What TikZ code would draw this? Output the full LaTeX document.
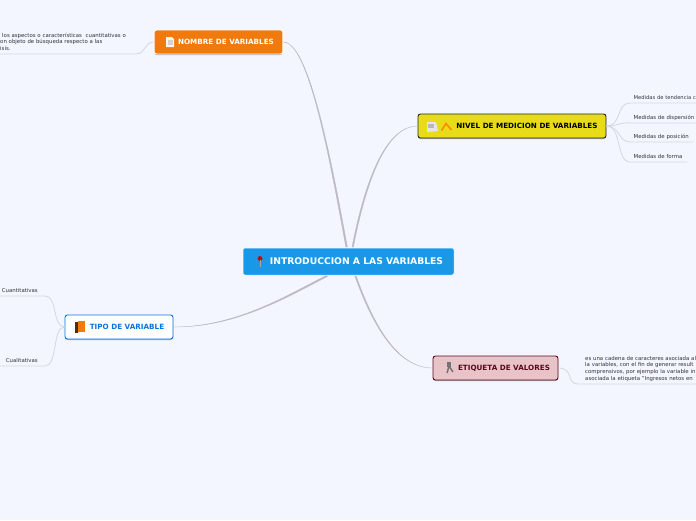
\documentclass[tikz,border=0pt]{standalone}
\usepackage{xcolor}
\usepackage{fontspec}
\setmainfont{DejaVu Sans}
\usepackage{tikz}
\usetikzlibrary{positioning, shadows}
\definecolor{mybg}{RGB}{243,246,255}
\definecolor{myline}{RGB}{186,187,194}
\definecolor{myleaf}{RGB}{212,214,224}
\definecolor{myblue}{RGB}{26,152,232}
\definecolor{myorange}{RGB}{240,122,12}
\definecolor{myyellow}{RGB}{232,220,24}
\definecolor{mypink}{RGB}{232,196,200}
\definecolor{mymaroon}{RGB}{90,8,32}
\definecolor{mytipo}{RGB}{8,116,224}
\definecolor{mytext}{RGB}{50,50,60}
\tikzset{
  branch/.style={rectangle, rounded corners=2.5pt, inner sep=0pt, minimum height=24pt,
    font=\fontsize{7.2}{8}\selectfont\bfseries, line width=0.9pt,
    drop shadow={shadow xshift=0pt, shadow yshift=-1pt, opacity=0.3, fill=black}},
  rootnode/.style={rectangle, rounded corners=2pt, draw=white, fill=myblue, text=white,
    inner sep=0pt, minimum width=211pt, minimum height=27pt, line width=0.5pt,
    font=\fontsize{9.2}{10}\selectfont\bfseries},
  leaf/.style={rectangle, inner sep=0pt, align=left, text=mytext,
    font=\fontsize{5.4}{6.7}\selectfont, minimum height=10pt},
  link/.style={fill=myline, draw=myline, line width=0.3pt},
  leaflink/.style={color=myleaf, line width=0.8pt}
}

\begin{document}
\begin{tikzpicture}[x=1pt, y=-1pt]
  \useasboundingbox[fill=mybg] (0,0) rectangle (696,520);

  % Ends of the links at the centre
  \coordinate (topa) at (345.8,247);
  \coordinate (topb) at (347.4,247);
  \coordinate (topc) at (352,247);
  \coordinate (topd) at (353.4,247);
  \coordinate (bota) at (326,275.6);
  \coordinate (botb) at (327.6,276.4);
  \coordinate (botc) at (354.8,276);
  \coordinate (botd) at (356.2,276);

  % Branches
  \node[rootnode] (root) at (348.5,261.5) {\hspace*{26pt}INTRODUCCION A LAS VARIABLES\hspace*{10pt}};
  \node[branch, draw=white, fill=myorange, text=white, minimum width=127pt] (nombre) at (218.5,42) {\hspace*{24pt}NOMBRE DE VARIABLES\hspace*{9pt}};
  \node[branch, draw=black!85, fill=myyellow, text=black, minimum width=188pt] (nivel) at (512,126) {\hspace*{38pt}NIVEL DE MEDICION DE VARIABLES\hspace*{8pt}};
  \node[branch, draw=mymaroon, fill=mypink, text=mymaroon, minimum width=125pt] (etiqueta) at (495.5,368) {\hspace*{25pt}ETIQUETA DE VALORES\hspace*{8pt}};
  \node[branch, draw=mytipo, fill=white, text=mytipo, minimum width=108pt] (tipo) at (119,327) {\hspace*{24pt}TIPO DE VARIABLE\hspace*{8pt}};

  \fill[link] (nombre.east) .. controls (308,42) and (329,155) .. (topa) -- (topb) .. controls (330.5,155) and (308.5,42) .. (nombre.east);
  \fill[link] (nivel.west) .. controls (389,126) and (367,170) .. (topc) -- (topd) .. controls (368.5,170) and (389.5,126) .. (nivel.west);
  \fill[link] (tipo.east) .. controls (235,327) and (284,297) .. (bota) -- (botb) .. controls (284.7,298.5) and (235,327.5) .. (tipo.east);
  \fill[link] (etiqueta.west) .. controls (399,368) and (374,330) .. (botc) -- (botd) .. controls (375.5,330) and (399.5,368) .. (etiqueta.west);

  % Leaves
  \node[leaf, anchor=south west, text width=66pt] (tendencia) at (630,103) {\hspace*{3.5pt}\makebox[60pt][l]{\fontsize{5.2}{6.7}\selectfont Medidas de tendencia c}};
  \node[leaf, below=9.5pt of tendencia, text width=66pt] (dispersion) {\hspace*{3.5pt}Medidas de dispersión};
  \node[leaf, anchor=south west, text width=63pt] (posicion) at (630,142) {\hspace*{3.5pt}Medidas de posición};
  \node[leaf, anchor=south west, text width=57pt] (forma) at (630,162) {\hspace*{3.5pt}Medidas de forma};
  \node[leaf, anchor=south west, text width=118pt] (cadena) at (578,384) {\hspace*{7pt}\parbox[b]{111pt}{es una cadena de caracteres asociada al\\la variables, con el fin de generar result\\comprensivos, por ejemplo la variable in\\asociada la etiqueta "Ingresos netos en\\[-3pt]\mbox{}}};
  \node[leaf, anchor=south west, text width=135pt] (aspectos) at (0,54) {\parbox[b]{135pt}{\hspace*{2pt}los aspectos o características\ \ cuantitativas o\\on objeto de búsqueda respecto a las\\isis.\\[-3.5pt]\mbox{}}};
  \node[leaf, anchor=south east, text width=45pt, align=right] (cuanti) at (45,296) {Cuantitativas\hspace*{7pt}};
  \node[leaf, anchor=south east, text width=45pt, align=right] (cuali) at (45,366) {Cualitativas\hspace*{7pt}};

  \draw[leaflink] (nivel.east) .. controls (622,126) and (616,103) .. (tendencia.south west) -- (tendencia.south east);
  \draw[leaflink] (nivel.east) .. controls (618,126) and (620,122) .. (dispersion.south west) -- (dispersion.south east);
  \draw[leaflink] (nivel.east) .. controls (620,126) and (618,142) .. (posicion.south west) -- (posicion.south east);
  \draw[leaflink] (nivel.east) .. controls (622,126) and (616,162) .. (forma.south west) -- (forma.south east);
  \draw[leaflink] (etiqueta.east) .. controls (574,368) and (566,384) .. (cadena.south west) -- (cadena.south east);
  \draw[leaflink] (nombre.west) .. controls (144,42) and (146,54) .. (aspectos.south east) -- (aspectos.south west);
  \draw[leaflink] (tipo.west) .. controls (52,327) and (58,296) .. (cuanti.south east) -- (cuanti.south west);
  \draw[leaflink] (tipo.west) .. controls (52,327) and (58,366) .. (cuali.south east) -- (cuali.south west);

  % Icons
  \fill[red!80!black] (260,258.5) circle (2.4pt);
  \draw[gray!70, line width=0.8pt] (260,260) -- (260,267);
  \fill[white!92!gray] (166,37) -- (172,37) -- (174,39) -- (174,47) -- (166,47) -- cycle;
  \fill[gray!35] (167.5,40) rectangle (172.5,45);
  \fill[white!80!gray] (427,122) -- (436,122) -- (438,131) -- (427,132) -- cycle;
  \fill[gray!55] (428,124) rectangle (434,128);
  \draw[orange!90!yellow, line width=1.6pt] (441.5,130.5) -- (446,123.5) -- (451.5,130);
  \fill[black!55] (447,362) rectangle (451,367);
  \draw[black!55, line width=1.5pt] (449,366) -- (447,373) (449,366) -- (453,372);
  \fill[black!65!myorange] (75,322) rectangle (78,333);
  \fill[myorange] (78,321) rectangle (85,332);
\end{tikzpicture}
\end{document}
